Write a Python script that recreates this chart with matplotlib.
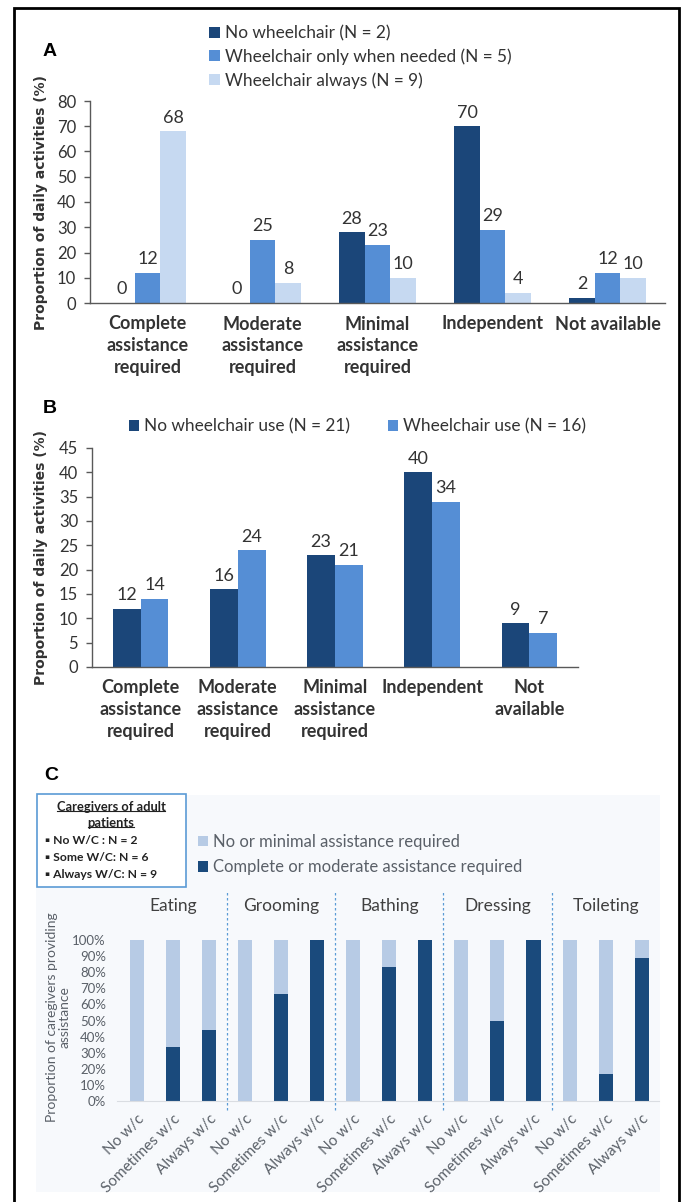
import matplotlib
matplotlib.use("Agg")
import matplotlib.pyplot as plt
from matplotlib.lines import Line2D
from matplotlib.patches import Rectangle
import numpy as np

plt.rcParams['font.family'] = ['Lato', 'DejaVu Sans']

# --- panel A: caregivers of adult patients, by wheelchair use ---
cats_a = ['Complete\nassistance\nrequired', 'Moderate\nassistance\nrequired',
          'Minimal\nassistance\nrequired', 'Independent', 'Not available']
no_wc_a = [0, 0, 28, 70, 2]
needed_a = [12, 25, 23, 29, 12]
always_a = [68, 8, 10, 4, 10]
labels_a = ['No wheelchair (N = 2)', 'Wheelchair only when needed (N = 5)',
            'Wheelchair always (N = 9)']

# --- panel B: all patients, wheelchair use vs none ---
cats_b = ['Complete\nassistance\nrequired', 'Moderate\nassistance\nrequired',
          'Minimal\nassistance\nrequired', 'Independent', 'Not\navailable']
no_wc_b = [12, 16, 23, 40, 9]
wc_b = [14, 24, 21, 34, 7]
labels_b = ['No wheelchair use (N = 21)', 'Wheelchair use (N = 16)']

# --- panel C: caregivers providing assistance per activity ---
activities = ['Eating', 'Grooming', 'Bathing', 'Dressing', 'Toileting']
wc_groups = ['No w/c', 'Sometimes w/c', 'Always w/c']
complete_mod = [0, 33.3, 44.4, 0, 66.7, 100, 0, 83.3, 100, 0, 50, 100, 0, 16.7, 88.9]
none_minimal = [100, 66.7, 55.6, 100, 33.3, 0, 100, 16.7, 0, 100, 50, 0, 100, 83.3, 11.1]
labels_c = ['No or minimal assistance required', 'Complete or moderate assistance required']
box_title = ['Caregivers of adult', 'patients']
box_items = ['No W/C : N = 2', 'Some W/C: N = 6', 'Always W/C: N = 9']

DARK = '#1B4679'
MID = '#558ED5'
LIGHT = '#C6D9F1'
C_DARK = '#1A4A7C'
C_LIGHT = '#B7CBE5'
AXIS = '#595959'
TXT = '#333333'
C_TXT = '#5A6068'

W, H = 681, 1202
fig = plt.figure(figsize=(W / 100, H / 100), dpi=100)


def fx(px):
    return px / W


def fy(py):
    return 1 - py / H


def style_bar_axes(ax, cats):
    for s in ['top', 'right']:
        ax.spines[s].set_visible(False)
    for s in ['left', 'bottom']:
        ax.spines[s].set_color(AXIS)
        ax.spines[s].set_linewidth(1.0)
    ax.set_xticks(np.arange(len(cats)))
    ax.set_xticklabels(cats, fontweight='bold', fontsize=13, color=TXT, linespacing=1.35)
    ax.tick_params(axis='x', length=0, pad=9)
    ax.tick_params(axis='y', length=4, width=1, color=AXIS, pad=6, labelsize=12, labelcolor=TXT)
    ax.set_xlim(-0.5, len(cats) - 0.5)


def label_bars(ax, bars, vals):
    for b, v in zip(bars, vals):
        ax.annotate(f'{v}', (b.get_x() + b.get_width() / 2, v), xytext=(0, 4),
                    textcoords='offset points', ha='center', va='bottom',
                    fontsize=13, color=TXT)


# ---------------- panel A ----------------
ax_a = fig.add_axes([fx(90), fy(303), 575 / W, 202 / H])
x = np.arange(len(cats_a))
w = 0.222
for i, (vals, col, lab) in enumerate(zip([no_wc_a, needed_a, always_a],
                                         [DARK, MID, LIGHT], labels_a)):
    bars = ax_a.bar(x + (i - 1) * w, vals, w, color=col, label=lab)
    label_bars(ax_a, bars, vals)
ax_a.set_ylim(0, 80)
ax_a.set_yticks(range(0, 81, 10))
style_bar_axes(ax_a, cats_a)
ax_a.text(-0.0852, 0.4975, 'Proportion of daily activities (%)', transform=ax_a.transAxes,
          rotation=90, ha='center', va='center', fontsize=10, fontweight='bold',
          family='DejaVu Sans', color=TXT)
ax_a.legend(loc='upper left', bbox_to_anchor=(fx(209), fy(25)), bbox_transform=fig.transFigure,
            frameon=False, fontsize=12.4, handlelength=0.65, handleheight=0.6,
            handletextpad=0.3, labelspacing=0.42, borderpad=0, borderaxespad=0,
            labelcolor=TXT)
fig.text(fx(50), fy(52), 'A', fontsize=14, fontweight='bold', family='Liberation Sans',
         ha='center', va='center')

# ---------------- panel B ----------------
ax_b = fig.add_axes([fx(92), fy(667), 486 / W, 219 / H])
x = np.arange(len(cats_b))
w = 0.287
for i, (vals, col, lab) in enumerate(zip([no_wc_b, wc_b], [DARK, MID], labels_b)):
    bars = ax_b.bar(x + (i - 0.5) * w, vals, w, color=col, label=lab)
    label_bars(ax_b, bars, vals)
ax_b.set_ylim(0, 45)
ax_b.set_yticks(range(0, 46, 5))
style_bar_axes(ax_b, cats_b)
ax_b.text(-0.104, 0.5, 'Proportion of daily activities (%)', transform=ax_b.transAxes,
          rotation=90, ha='center', va='center', fontsize=10, fontweight='bold',
          family='DejaVu Sans', color=TXT)
ax_b.legend(loc='upper left', bbox_to_anchor=(fx(129), fy(418)), bbox_transform=fig.transFigure,
            frameon=False, fontsize=12.4, ncol=2, handlelength=0.6, handleheight=0.6,
            handletextpad=0.3, columnspacing=2.15, borderpad=0, borderaxespad=0,
            labelcolor=TXT)
fig.text(fx(50), fy(409), 'B', fontsize=14, fontweight='bold', family='Liberation Sans',
         ha='center', va='center')

# ---------------- panel C ----------------
fig.patches.append(Rectangle((fx(36), fy(1192)), fx(660) - fx(36), fy(795) - fy(1192),
                             transform=fig.transFigure, facecolor='#F7F9FC',
                             edgecolor='none', zorder=0))
fig.text(fx(51), fy(775), 'C', fontsize=14, fontweight='bold', family='Liberation Sans',
         ha='center', va='center')

ax_c = fig.add_axes([fx(117), fy(1101), 542 / W, 161 / H])
ax_c.set_zorder(3)
ax_c.set_facecolor('none')
xc = np.arange(len(complete_mod))
ax_c.bar(xc, complete_mod, 0.39, color=C_DARK, label=labels_c[1])
ax_c.bar(xc, none_minimal, 0.39, bottom=complete_mod, color=C_LIGHT, label=labels_c[0])
ax_c.set_ylim(0, 100)
ax_c.set_xlim(-0.55, len(xc) - 0.52)
ax_c.set_yticks(range(0, 101, 10))
ax_c.set_yticklabels([f'{v}%' for v in range(0, 101, 10)])
ax_c.tick_params(axis='y', length=0, pad=8, labelsize=9.5, labelcolor=C_TXT)
ax_c.set_xticks(xc)
ax_c.set_xticklabels(wc_groups * len(activities), rotation=45, ha='right',
                     rotation_mode='anchor', fontsize=11, color=C_TXT)
ax_c.tick_params(axis='x', length=0, pad=8)
for s in ['top', 'right', 'left']:
    ax_c.spines[s].set_visible(False)
ax_c.spines['bottom'].set_color('#DADDE2')
ax_c.spines['bottom'].set_linewidth(0.8)

for k, act in enumerate(activities):
    ax_c.text(3 * k + 1, 121, act, ha='center', va='center', fontsize=12.5, color='#404040')
    if k > 0:
        ax_c.axvline(3 * k - 0.5, ymin=-0.056, ymax=1.30, clip_on=False,
                     color='#5B9BD5', lw=0.9, ls=(0, (2, 2)))

ax_c.text(-0.108, 0.52, 'Proportion of caregivers providing\nassistance',
          transform=ax_c.transAxes, rotation=90, ha='center', va='center',
          fontsize=10, color=C_TXT, linespacing=1.05)

h, l = ax_c.get_legend_handles_labels()
ax_c.legend(h[::-1], l[::-1], loc='upper left', bbox_to_anchor=(fx(198), fy(834)),
            bbox_transform=fig.transFigure, frameon=False, fontsize=12,
            handlelength=0.6, handleheight=0.6, handletextpad=0.3, labelspacing=0.55,
            borderpad=0, borderaxespad=0, labelcolor=C_TXT)

# caregiver box
fig.patches.append(Rectangle((fx(37), fy(887)), fx(186) - fx(37), fy(794) - fy(887),
                             transform=fig.transFigure, facecolor='white',
                             edgecolor='#5B9BD5', lw=1.2, zorder=1))
title_texts = []
for j, line in enumerate(box_title):
    t = fig.text(fx(111), fy(807 + 16 * j), line, ha='center', va='center', fontsize=9.3,
                 fontweight='bold', color='#222222', zorder=2)
    title_texts.append(t)
for j, item in enumerate(box_items):
    fig.text(fx(45), fy(841 + 16.5 * j), '\u25aa ' + item, ha='left', va='center',
             fontsize=8.7, fontweight='bold', color='#222222', zorder=2)

fig.canvas.draw()
renderer = fig.canvas.get_renderer()
for t in title_texts:
    bb = t.get_window_extent(renderer)
    y_u = (bb.y0 + 2) / (H)
    fig.lines.append(Line2D([bb.x0 / W, bb.x1 / W], [y_u, y_u], transform=fig.transFigure,
                            color='#222222', lw=0.8, zorder=2))

# outer frame (open at the bottom)
fig.lines.append(Line2D([fx(14), fx(14), fx(679), fx(679)], [fy(1210), fy(8), fy(8), fy(1210)],
                        transform=fig.transFigure, color='black', lw=2.0,
                        solid_joinstyle='miter'))

fig.savefig('out.png', dpi=100)
